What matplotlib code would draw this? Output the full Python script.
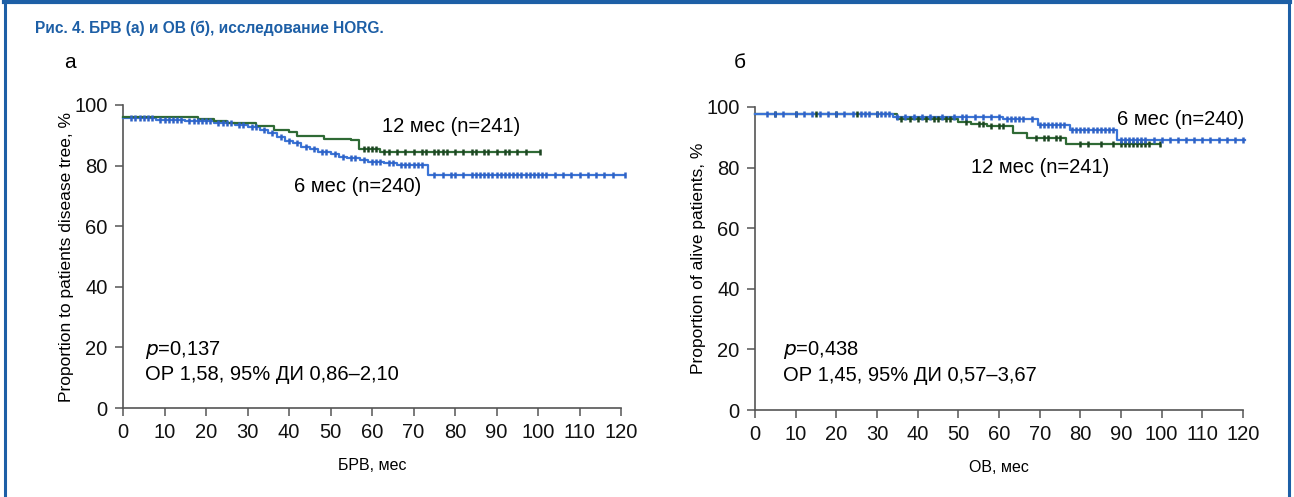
import numpy as np
import matplotlib
matplotlib.use("Agg")
import matplotlib.pyplot as plt

plt.rcParams['font.family'] = ['Liberation Sans', 'DejaVu Sans']

# ---------------- data ----------------
xticks = list(range(0, 121, 10))
yticks = [0, 20, 40, 60, 80, 100]

# Panel a (БРВ)
a_12_times = [0, 18, 22, 25, 32, 36.5, 40, 42, 48.5, 55, 56.8, 62, 100.5]
a_12_surv = [96.0, 95.5, 94.8, 93.9, 93.0, 91.9, 91.0, 89.7, 88.9, 88.3, 85.5, 84.4, 84.4]
a_12_cens = [58, 59, 60, 61, 63, 64, 66, 68, 70, 72, 73, 75, 76, 77, 78, 80, 82, 84,
             85, 87, 88, 90, 92, 93, 95, 97, 100.5]

a_6_times = [0, 8, 15, 22, 27, 30, 33, 35, 37, 39, 41, 43, 45, 47, 50, 52, 54, 57, 59,
             63, 66, 73.5, 121]
a_6_surv = [95.7, 95.2, 94.7, 94.0, 93.4, 92.7, 91.8, 90.6, 89.4, 88.2, 87.3, 86.3, 85.4,
            84.6, 83.7, 83.0, 82.5, 81.9, 81.3, 80.7, 80.3, 77.0, 77.0]
a_6_cens = [2, 3, 4, 5, 6, 7, 9, 10, 11, 12, 13, 14, 16, 17, 18, 19, 20, 21, 23, 24, 25,
            26, 28, 29, 31, 32, 34, 36, 38, 40, 42, 44, 46, 48, 49, 51, 53, 55, 56, 58,
            60, 61, 62, 64, 65, 67, 68, 69, 70, 71, 72, 75, 77, 79, 80, 82, 84, 85, 86,
            87, 88, 89, 90, 91, 92, 93, 94, 95, 96, 97, 98, 99, 100, 101, 102, 104, 106,
            108, 110, 112, 114, 116, 118, 121]

# Panel б (ОВ)
b_12_times = [0, 35, 50, 53, 57, 63.5, 66.8, 76.5, 99.6]
b_12_surv = [97.8, 96.0, 95.2, 94.4, 93.8, 91.4, 89.7, 87.7, 87.7]
b_12_cens = [5, 10, 15, 20, 25, 30, 36, 38, 40, 42, 44, 45, 47, 48, 52, 55, 56, 58, 60,
             61, 69, 71, 72, 74, 75, 80, 82, 85, 88, 90, 91, 92, 93, 94, 95, 96, 97, 99.6]

b_6_times = [0, 34, 61, 69.5, 77.5, 89, 120.5]
b_6_surv = [97.8, 96.7, 96.0, 94.1, 92.3, 89.0, 89.0]
b_6_cens = [3, 5, 7, 10, 12, 14, 16, 18, 20, 22, 24, 26, 27, 28, 30, 31, 32, 33, 35, 37,
            39, 41, 43, 46, 49, 51, 52, 54, 56, 58, 60, 62, 63, 64, 65, 66, 68, 70, 71,
            72, 73, 74, 75, 76, 78, 79, 80, 81, 82, 83, 84, 85, 86, 87, 88, 90, 91, 92,
            93, 94, 95, 96, 98, 100, 102, 104, 106, 108, 110, 112, 114, 116, 118, 120]

GREEN = '#2f6a35'
GREEN_M = '#1d4522'
BLUE = '#3b74d6'
BLUE_M = '#2f62c6'
AXC = '#555555'
TITLE_C = '#1d5fa6'


def step_val(times, surv, t):
    idx = np.searchsorted(np.asarray(times), t, side='right') - 1
    idx = np.clip(idx, 0, len(surv) - 1)
    return np.asarray(surv)[idx]


def km(ax, times, surv, cens, lc, mc, lw=1.6):
    ax.step(times, surv, where='post', color=lc, lw=lw, clip_on=False, zorder=3)
    cy = step_val(times, surv, np.asarray(cens))
    ax.plot(cens, cy, ls='none', marker='|', ms=4.5, mew=1.8, color=mc,
            clip_on=False, zorder=4)


def style(ax):
    ax.set_xlim(0, 120)
    ax.set_ylim(0, 100)
    ax.set_xticks(xticks)
    ax.set_yticks(yticks)
    for s in ['top', 'right']:
        ax.spines[s].set_visible(False)
    for s in ['left', 'bottom']:
        ax.spines[s].set_color(AXC)
        ax.spines[s].set_linewidth(1.2)
    ax.tick_params(direction='out', length=6, width=1.1, color=AXC,
                   labelsize=14.5, labelcolor='#111111', pad=5)


fig = plt.figure(figsize=(12.94, 4.97), dpi=100)

# border
fig.add_artist(plt.Line2D([0.003, 0.997], [0.996, 0.996], color=TITLE_C, lw=3,
                          transform=fig.transFigure))
fig.add_artist(plt.Line2D([0.0035, 0.0035], [0.0, 0.996], color=TITLE_C, lw=2.2,
                          transform=fig.transFigure))
fig.add_artist(plt.Line2D([0.9965, 0.9965], [0.0, 0.996], color=TITLE_C, lw=2.2,
                          transform=fig.transFigure))

fig.text(35 / 1294, 1 - 28 / 497, 'Рис. 4. БРВ (а) и ОВ (б), исследование HORG.',
         fontweight='bold', fontsize=11.2,
         color=TITLE_C, va='center', ha='left')

LBL = 14.5

# Panel a
axa = fig.add_axes([123 / 1294, 1 - 408 / 497, 498 / 1294, 303 / 497])
style(axa)
km(axa, a_6_times, a_6_surv, a_6_cens, BLUE, BLUE_M)
km(axa, a_12_times, a_12_surv, a_12_cens, GREEN, GREEN_M)
axa.text(79, 93, '12 мес (n=241)', fontsize=LBL, ha='center', va='center')
axa.text(56.6, 73, '6 мес (n=240)', fontsize=LBL, ha='center', va='center')
axa.text(5.3, 19.3, '$p$=0,137', fontsize=LBL, ha='left', va='center')
axa.text(5.3, 11.0, 'ОР 1,58, 95% ДИ 0,86–2,10', fontsize=LBL, ha='left', va='center')
axa.set_xlabel('БРВ, мес', fontsize=11.5, labelpad=11)
axa.set_ylabel('Proportion to patients disease tree, %', fontsize=12.5, labelpad=0)
fig.text(70 / 1294, 1 - 62 / 497, 'а', fontsize=15, ha='center', va='center')

# Panel б
axb = fig.add_axes([755 / 1294, 1 - 410 / 497, 488 / 1294, 303 / 497])
style(axb)
km(axb, b_12_times, b_12_surv, b_12_cens, GREEN, GREEN_M)
km(axb, b_6_times, b_6_surv, b_6_cens, BLUE, BLUE_M)
axb.text(104.7, 96, '6 мес (n=240)', fontsize=LBL, ha='center', va='center')
axb.text(70, 80, '12 мес (n=241)', fontsize=LBL, ha='center', va='center')
axb.text(7, 19.8, '$p$=0,438', fontsize=LBL, ha='left', va='center')
axb.text(7, 11.5, 'ОР 1,45, 95% ДИ 0,57–3,67', fontsize=LBL, ha='left', va='center')
axb.set_xlabel('ОВ, мес', fontsize=11.5, labelpad=11)
axb.set_ylabel('Proportion of alive patients, %', fontsize=12.5, labelpad=0)
fig.text(740 / 1294, 1 - 62 / 497, 'б', fontsize=15, ha='center', va='center')

fig.savefig('out.png', dpi=100)
